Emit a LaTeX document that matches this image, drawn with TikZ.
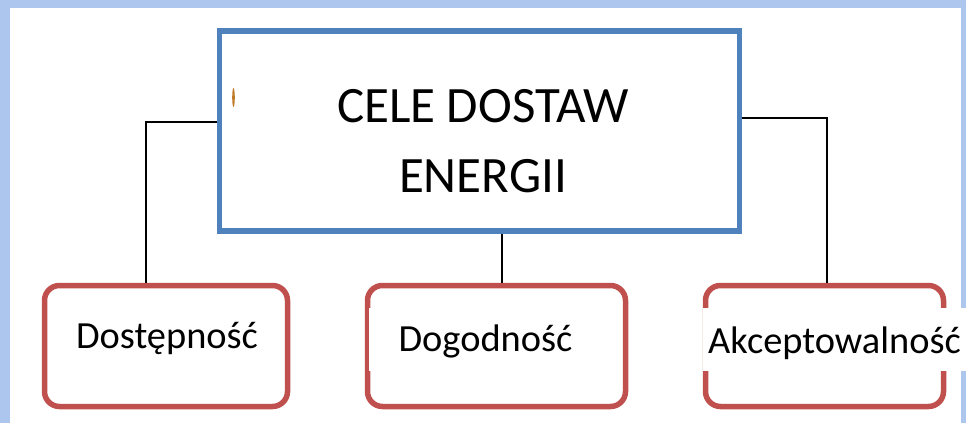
\documentclass[tikz,border=0pt]{standalone}
\usepackage{fontspec}
\setmainfont{Carlito}
\definecolor{bgblue}{HTML}{ADC6EE}
\definecolor{boxblue}{HTML}{4F81BD}
\definecolor{boxred}{HTML}{C0504D}
\definecolor{markorange}{HTML}{C07A2A}
\tikzset{
  mainbox/.style={draw=boxblue, line width=5.5pt, fill=white, minimum width=520pt, minimum height=200pt, inner sep=0pt},
  goalbox/.style={draw=boxred, line width=5.5pt, rounded corners=15pt, fill=white, minimum height=121pt, inner sep=0pt},
  goaltext/.style={font=\fontsize{38.4}{46}\selectfont, inner sep=0pt, anchor=base},
  link/.style={draw=black, line width=1.6pt}
}
\begin{document}
\begin{tikzpicture}[x=1pt,y=-1pt]
\useasboundingbox (0,0) rectangle (966,423);
\fill[bgblue] (0,0) rectangle (966,423);
\fill[white] (10,8) rectangle (961,423);

\node[mainbox] (main) at (479.5,131) {};
\node[font=\fontsize{51}{70}\selectfont, align=center, anchor=base, inner sep=0pt] (title) at (483,192) {CELE DOSTAW\\ENERGII};
\fill[markorange] (233.5,97.5) ellipse (1.3pt and 9.5pt);

\node[goalbox, minimum width=243pt] (dost) at (166,346) {};
\node[goalbox, minimum width=258pt] (dogo) at (496.5,346) {};
\node[goalbox, minimum width=238pt] (akce) at (824.5,346) {};

\coordinate (lc) at (146,122);
\coordinate (rc) at (827,118);
\draw[link] ([yshift=9pt]main.west) -- (lc) -- (lc |- dost.north);
\draw[link] (502,0 |- main.south) -- (502,0 |- dogo.north);
\draw[link] ([yshift=13pt]main.east) -- (rc) -- (rc |- akce.north);

\node[goaltext] (t1) at (167,348) {Dostępność};
\node[goaltext, fill=white, text height=43pt, text depth=20pt, minimum width=234pt] (t2) at (485.5,351) {Dogodność};
\node[goaltext, fill=white, text height=45pt, text depth=18pt, minimum width=263pt] (t3) at (834.5,353) {Akceptowalność};
\end{tikzpicture}
\end{document}
